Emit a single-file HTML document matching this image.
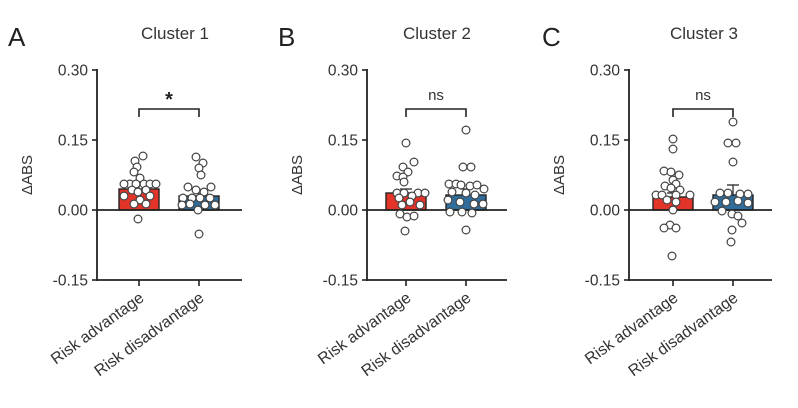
<!DOCTYPE html>
<html><head><meta charset="utf-8"><style>
html,body{margin:0;padding:0;background:#fff;}
svg{display:block;font-family:"Liberation Sans",Arial,sans-serif;}
</style></head><body>
<svg id="s" width="798" height="408" viewBox="0 0 798 408" xmlns="http://www.w3.org/2000/svg"></svg>
<script>
const s=document.getElementById('s');
let h='';
const panels=[
 {ax:97,t1:139,t2:199,end:242,L:'A',Lx:8,title:'Cluster 1',tx:175,sig:'*',r:189,b:196,eb1:184,eb2:190,
  red:[[143,156],[135,161],[137,167],[134,172],[140,178],[130,184],[136,184],[144,184],[150,184],[156,184],[124,184],[132,190],[146,190],[138,192],[124,196],[150,196],[140,200],[134,204],[146,204],[138,219]],
  blue:[[196,157],[203,163],[199,168],[201,175],[188,187],[211,187],[196,190],[204,192],[183,198],[192,198],[200,198],[210,198],[190,204],[182,205],[205,205],[198,210],[215,205],[199,234]]},
 {ax:367,t1:406,t2:466,end:507,L:'B',Lx:278,title:'Cluster 2',tx:437,sig:'ns',r:193,b:195,eb1:189,eb2:189,
  red:[[406,143],[414,162],[403,167],[408,172],[397,176],[403,177],[404,182],[397,193],[404,193],[418,193],[425,193],[412,196],[399,198],[410,202],[402,205],[420,205],[400,214],[407,217],[414,216],[405,231]],
  blue:[[466,130],[463,167],[471,167],[449,184],[456,184],[461,185],[470,186],[477,185],[484,189],[452,192],[466,193],[475,195],[448,200],[460,202],[474,204],[483,204],[450,212],[462,212],[472,213],[466,230]]},
 {ax:629,t1:673,t2:733,end:772,L:'C',Lx:542,title:'Cluster 3',tx:704,sig:'ns',r:197,b:195,eb1:193,eb2:185,
  red:[[673,139],[673,149],[664,171],[671,172],[679,175],[673,180],[665,186],[676,184],[671,188],[680,190],[656,195],[662,195],[676,195],[690,195],[667,200],[676,202],[673,210],[670,225],[664,228],[676,228],[672,256]],
  blue:[[733,122],[728,143],[736,143],[733,162],[720,193],[728,193],[740,194],[748,194],[715,202],[726,202],[738,201],[748,203],[722,211],[732,214],[738,216],[742,223],[732,230],[731,242]]}
];
const ys=[[70,'0.30'],[140,'0.15'],[210,'0.00'],[280,'-0.15']];
for(const p of panels){
 h+=`<text x="${p.Lx}" y="46" font-size="26" fill="#222">${p.L}</text>`;
 h+=`<text x="${p.tx}" y="39" font-size="17" fill="#333" text-anchor="middle">${p.title}</text>`;
 h+=`<text transform="translate(${p.ax-65},175) rotate(-90)" font-size="15" fill="#333" text-anchor="middle">ΔABS</text>`;
 for(const [y,t] of ys){
  h+=`<line x1="${p.ax-5}" x2="${p.ax}" y1="${y}" y2="${y}" stroke="#222" stroke-width="1.6"/>`;
  h+=`<text x="${p.ax-9}" y="${y+5.5}" font-size="15.5" fill="#333" text-anchor="end">${t}</text>`;
 }
 h+=`<line x1="${p.ax}" x2="${p.ax}" y1="69" y2="281" stroke="#222" stroke-width="1.8"/>`;
 h+=`<line x1="${p.ax}" x2="${p.end}" y1="280" y2="280" stroke="#222" stroke-width="1.8"/>`;
 for(const t of [p.t1,p.t2]) h+=`<line x1="${t}" x2="${t}" y1="280" y2="286" stroke="#222" stroke-width="1.6"/>`;
 h+=`<rect x="${p.t1-20}" y="${p.r}" width="40" height="${210-p.r}" fill="#e3342a" stroke="#222" stroke-width="1.4"/>`;
 h+=`<rect x="${p.t2-20}" y="${p.b}" width="40" height="${210-p.b}" fill="#2f6d9c" stroke="#222" stroke-width="1.4"/>`;
 h+=`<path d="M${p.t1} ${p.r}V${p.eb1}M${p.t1-6} ${p.eb1}H${p.t1+6}M${p.t2} ${p.b}V${p.eb2}M${p.t2-6} ${p.eb2}H${p.t2+6}" stroke="#222" stroke-width="1.2" fill="none"/>`;
 h+=`<line x1="${p.ax}" x2="${p.end}" y1="210" y2="210" stroke="#222" stroke-width="1.8"/>`;
 for(const [x,y] of p.red.concat(p.blue)) h+=`<circle cx="${x}" cy="${y}" r="3.9" fill="#fff" stroke="#444" stroke-width="1.2"/>`;
 h+=`<path d="M${p.t1} 117V109H${p.t2}V117" stroke="#222" stroke-width="1.6" fill="none"/>`;
 if(p.sig=='*') h+=`<text x="${(p.t1+p.t2)/2}" y="106" font-size="20" font-weight="bold" fill="#222" text-anchor="middle">*</text>`;
 else h+=`<text x="${(p.t1+p.t2)/2}" y="100" font-size="15" fill="#333" text-anchor="middle">ns</text>`;
 for(const [t,lab] of [[p.t1,'Risk advantage'],[p.t2,'Risk disadvantage']])
  h+=`<text transform="translate(${t+6},300) rotate(-36)" font-size="16" fill="#333" text-anchor="end">${lab}</text>`;
}
s.innerHTML=h;
</script>
</body></html>
